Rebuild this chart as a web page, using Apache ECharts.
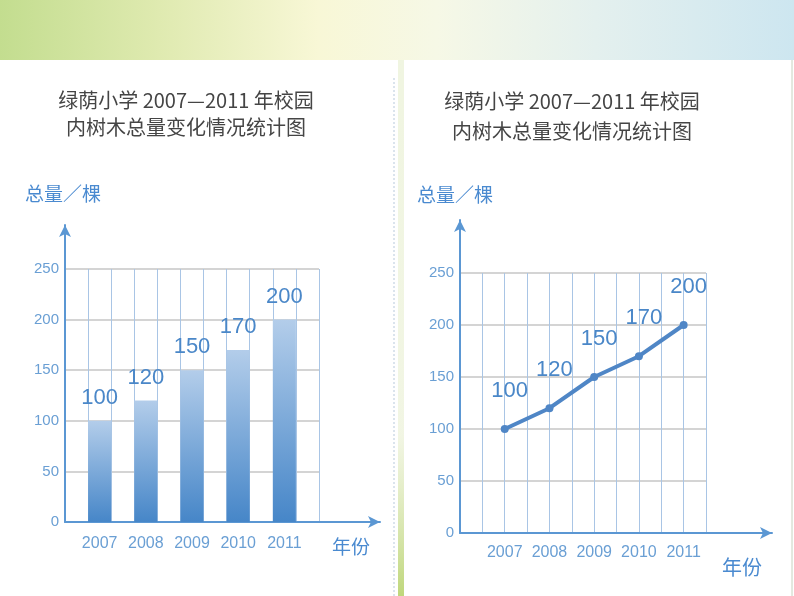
<!DOCTYPE html>
<html><head><meta charset="utf-8">
<script src="https://cdn.jsdelivr.net/npm/echarts@6/dist/echarts.min.js"></script>
<style>html,body{margin:0;padding:0;background:#fff}#c{width:794px;height:596px}</style>
</head><body><div id="c"></div>
<script>
var years = ['2007', '2008', '2009', '2010', '2011'];
var totals = [100, 120, 150, 170, 200];
var yTicks = [0, 50, 100, 150, 200, 250];
var titleLine1 = '绿荫小学 2007—2011 年校园';
var titleLine2 = '内树木总量变化情况统计图';
var yName = '总量／棵';
var xName = '年份';

// bar chart: 11 bands, years in odd bands
var barCats = [''], barData = [null];
years.forEach(function (y, i) { barCats.push(y, ''); barData.push(totals[i], null); });
// line chart: 12 positions, years at even positions 2..10
var lineCats = ['', ''], lineData = [null, null];
years.forEach(function (y, i) { lineCats.push(y, ''); lineData.push(totals[i], null); });

var NUM = '"Liberation Sans",Arial,sans-serif';
var CJK = '"Noto Sans CJK SC",sans-serif';
var blue = '#4a87c8';
var axisBlue = '#5b97d3';

var chart = echarts.init(document.getElementById('c'), null, {renderer: 'canvas'});

function valueAxis(gi) {
  return {
    type: 'value', gridIndex: gi, min: yTicks[0], max: yTicks[yTicks.length - 1], interval: yTicks[1] - yTicks[0],
    axisLine: {show: false}, axisTick: {show: false},
    axisLabel: {color: '#6a9fd4', fontFamily: NUM, fontSize: 15, margin: 6},
    splitLine: {show: true, lineStyle: {color: '#d4d4d4', width: 2}}
  };
}
function arrowAxis(gi) {
  return {type: 'value', gridIndex: gi, min: 0, max: 1, axisLabel: {show: false}, axisTick: {show: false}, splitLine: {show: false},
    axisLine: {show: true, symbol: ['none', 'arrow'], symbolSize: [9, 12], lineStyle: {color: axisBlue, width: 2}}};
}

var option = {
  backgroundColor: '#ffffff',
  animation: false,
  grid: [
    {left: 65, top: 269, width: 254, height: 253},
    {left: 460, top: 273, width: 246, height: 260},
    {left: 65, top: 225, width: 315, height: 297},
    {left: 460, top: 220, width: 312, height: 313}
  ],
  xAxis: [
    {type: 'category', gridIndex: 0, data: barCats, boundaryGap: true,
      axisLine: {show: false}, axisTick: {show: false},
      axisLabel: {interval: 0, color: '#6a9fd4', fontFamily: NUM, fontSize: 16, margin: 14},
      splitLine: {show: true, interval: 0, lineStyle: {color: '#a9c5e5', width: 1}}},
    {type: 'category', gridIndex: 1, data: lineCats, boundaryGap: false,
      axisLine: {show: false}, axisTick: {show: false},
      axisLabel: {interval: 0, color: '#6a9fd4', fontFamily: NUM, fontSize: 16, margin: 12},
      splitLine: {show: true, interval: 0, lineStyle: {color: '#a9c5e5', width: 1}}},
    arrowAxis(2), arrowAxis(3)
  ],
  yAxis: [valueAxis(0), valueAxis(1), arrowAxis(2), arrowAxis(3)],
  series: [
    {type: 'bar', xAxisIndex: 0, yAxisIndex: 0, data: barData, barWidth: '100%',
      itemStyle: {color: new echarts.graphic.LinearGradient(0, 0, 0, 1, [
        {offset: 0, color: '#b3cdea'}, {offset: 1, color: '#4686c8'}])},
      label: {show: true, position: 'top', distance: 12, color: blue, fontFamily: NUM, fontSize: 22}},
    {type: 'line', xAxisIndex: 1, yAxisIndex: 1, data: lineData, connectNulls: true,
      symbol: 'circle', symbolSize: 8,
      lineStyle: {color: '#4f86c6', width: 4},
      itemStyle: {color: '#4f86c6'},
      label: {show: true, position: 'top', distance: 23, offset: [5, 0], color: blue, fontFamily: NUM, fontSize: 22}}
  ],
  graphic: [
    {type: 'rect', z: -10, shape: {x: 0, y: 0, width: 794, height: 60},
      style: {fill: new echarts.graphic.LinearGradient(0, 0, 1, 0, [
        {offset: 0, color: '#c3dd8f'}, {offset: 0.2, color: '#dfeab0'}, {offset: 0.4, color: '#f8f7d6'},
        {offset: 0.55, color: '#f6f8e6'}, {offset: 0.75, color: '#e4f0ee'}, {offset: 1, color: '#cde6f0'}])}},
    {type: 'rect', z: -9, shape: {x: 398, y: 60, width: 6, height: 536},
      style: {fill: new echarts.graphic.LinearGradient(0, 0, 0, 1, [
        {offset: 0, color: 'rgba(225,235,195,0.5)'}, {offset: 0.7, color: 'rgba(228,236,200,0.5)'}, {offset: 1, color: 'rgba(180,208,100,0.85)'}])}},
    {type: 'line', z: -8, shape: {x1: 394, y1: 78, x2: 394, y2: 596},
      style: {stroke: '#b7c9dc', lineWidth: 1, lineDash: [2, 2]}},
    {type: 'line', z: -8, shape: {x1: 792, y1: 60, x2: 792, y2: 596},
      style: {stroke: '#c8d2c0', lineWidth: 1}},
    {type: 'text', x: 186, y: 100, style: {text: titleLine1, font: '20px ' + CJK, fill: '#454545', align: 'center', verticalAlign: 'middle'}},
    {type: 'text', x: 186, y: 127, style: {text: titleLine2, font: '20px ' + CJK, fill: '#454545', align: 'center', verticalAlign: 'middle'}},
    {type: 'text', x: 572, y: 101, style: {text: titleLine1, font: '20px ' + CJK, fill: '#454545', align: 'center', verticalAlign: 'middle'}},
    {type: 'text', x: 572, y: 131, style: {text: titleLine2, font: '20px ' + CJK, fill: '#454545', align: 'center', verticalAlign: 'middle'}},
    {type: 'text', x: 25, y: 194, style: {text: yName, font: '19px ' + CJK, fill: '#4a8ad0', align: 'left', verticalAlign: 'middle'}},
    {type: 'text', x: 417, y: 195, style: {text: yName, font: '19px ' + CJK, fill: '#4a8ad0', align: 'left', verticalAlign: 'middle'}},
    {type: 'text', x: 332, y: 547, style: {text: xName, font: '19px ' + CJK, fill: '#4a8ad0', align: 'left', verticalAlign: 'middle'}},
    {type: 'text', x: 722, y: 567, style: {text: xName, font: '20px ' + CJK, fill: '#4a8ad0', align: 'left', verticalAlign: 'middle'}}
  ]
};
chart.setOption(option);
</script></body></html>
